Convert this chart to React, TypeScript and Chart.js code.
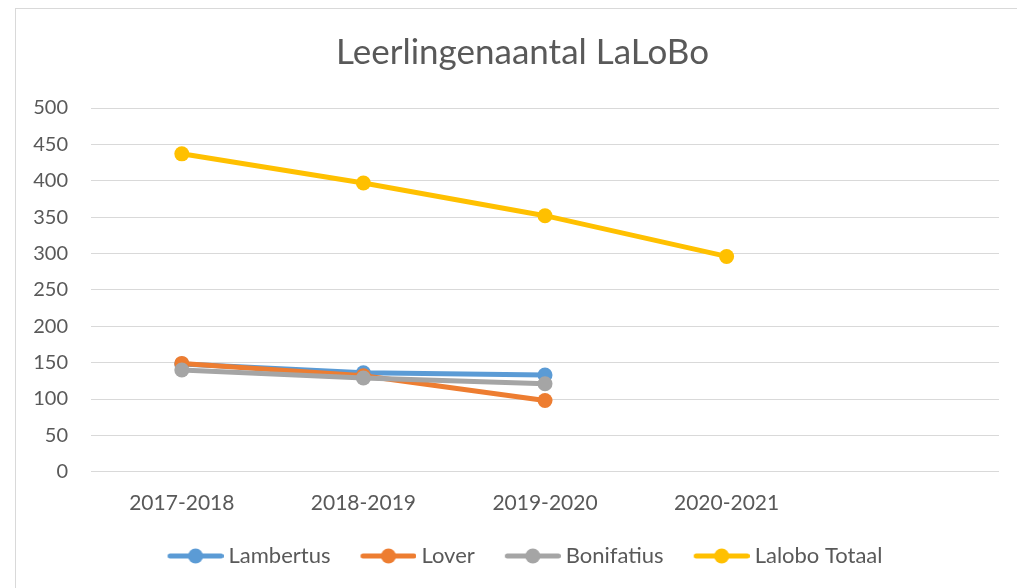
import React, { useEffect, useRef } from "react";
import { Chart, registerables } from "chart.js";

Chart.register(...registerables);

const categories = ["2017-2018", "2018-2019", "2019-2020", "2020-2021", ""];
const lambertus = [148, 136, 133, null, null];
const lover = [149, 132, 98, null, null];
const bonifatius = [140, 129, 121, null, null];
const laloboTotaal = [437, 397, 352, 296, null];
const yTicks = { min: 0, max: 500, step: 50 };

const seriesNames = ["Lambertus", "Lover", "Bonifatius", "Lalobo Totaal"];
const seriesColors = ["#5B9BD5", "#ED7D31", "#A5A5A5", "#FFC000"];

const FONT = "Lato";
const TEXT = "#595959";

const BOX_W = 69;
const IMG_W = BOX_W + 12;

function legendSymbol(color: string) {
  const c = document.createElement("canvas");
  c.width = IMG_W;
  c.height = 20;
  const ctx = c.getContext("2d")!;
  const x0 = IMG_W - 56;
  ctx.strokeStyle = color;
  ctx.lineWidth = 5;
  ctx.lineCap = "round";
  ctx.beginPath();
  ctx.moveTo(x0 + 2.5, 10);
  ctx.lineTo(x0 + 53.5, 10);
  ctx.stroke();
  ctx.fillStyle = color;
  ctx.beginPath();
  ctx.arc(x0 + 28, 10, 7.5, 0, Math.PI * 2);
  ctx.fill();
  return c;
}

const shiftLegend = {
  id: "shiftLegend",
  afterLayout(chart: any) {
    const lg = chart.legend;
    if (lg) {
      lg.left -= 7;
      lg.right -= 7;
    }
  },
};

export default function App() {
  const ref = useRef<HTMLCanvasElement | null>(null);
  useEffect(() => {
    if (!ref.current) return;
    const values = [lambertus, lover, bonifatius, laloboTotaal];
    const symbols = seriesColors.map(legendSymbol);
    const chart = new Chart(ref.current, {
      type: "line",
      plugins: [shiftLegend],
      data: {
        labels: categories,
        datasets: values.map((v, i) => ({
          label: seriesNames[i],
          data: v,
          borderColor: seriesColors[i],
          backgroundColor: seriesColors[i],
          pointBackgroundColor: seriesColors[i],
          pointBorderWidth: 0,
          pointRadius: 7.5,
          borderWidth: 5,
          tension: 0,
          spanGaps: false,
          order: 4 - i,
          yAxisID: "y",
        })),
      },
      options: {
        animation: false,
        responsive: false,
        maintainAspectRatio: false,
        layout: { padding: { left: 0, right: 0, top: 0, bottom: 21 } },
        plugins: {
          title: {
            display: true,
            text: "Leerlingenaantal LaLoBo",
            color: TEXT,
            font: { family: FONT, size: 35, weight: "normal" },
            padding: { top: 24, bottom: 34 },
          },
          legend: {
            position: "bottom",
            labels: {
              color: TEXT,
              font: { family: FONT, size: 22 },
              usePointStyle: true,
              pointStyleWidth: BOX_W,
              boxHeight: 20,
              padding: 11,
              generateLabels: (ch: any) => {
                const items = Chart.defaults.plugins.legend.labels.generateLabels(ch);
                items.sort((a: any, b: any) => a.datasetIndex - b.datasetIndex);
                return items.map((it: any) => ({
                  ...it,
                  pointStyle: symbols[it.datasetIndex],
                  fontColor: TEXT,
                }));
              },
            },
          },
          tooltip: { enabled: false },
        },
        scales: {
          x: {
            offset: true,
            grid: { display: false, drawTicks: false },
            border: { display: false },
            ticks: {
              color: TEXT,
              font: { family: FONT, size: 21 },
              padding: 19,
              maxRotation: 0,
              autoSkip: false,
            },
            afterFit: (s: any) => {
              s.height -= 1;
            },
          },
          y: {
            min: yTicks.min,
            max: yTicks.max,
            grid: { color: "#D9D9D9", lineWidth: 1, drawTicks: false },
            border: { display: false },
            ticks: {
              stepSize: yTicks.step,
              color: TEXT,
              font: { family: FONT, size: 20 },
              padding: 23,
            },
            afterFit: (s: any) => {
              s.width = 76;
            },
          },
          yRight: {
            position: "right",
            display: true,
            grid: { display: false, drawTicks: false },
            border: { display: false },
            ticks: { display: false },
            afterFit: (s: any) => {
              s.width = 31;
            },
          },
        },
      },
    });
    return () => chart.destroy();
  }, []);

  return (
    <div
      style={{
        position: "fixed",
        left: 0,
        top: 0,
        width: 1017,
        height: 588,
        overflow: "hidden",
        background: "#fff",
      }}
    >
      <div
        style={{
          position: "absolute",
          left: 222,
          top: -32,
          fontFamily: FONT,
          fontWeight: "bold",
          fontSize: 30,
          lineHeight: "30px",
          color: "#000",
        }}
      >
        g
      </div>
      <div
        style={{
          position: "absolute",
          left: 15,
          top: 8,
          width: 1030,
          height: 620,
          border: "1px solid #D9D9D9",
          boxSizing: "border-box",
        }}
      />
      <div style={{ position: "absolute", left: 15, top: 8, width: 1015, height: 590 }}>
        <canvas ref={ref} width={1015} height={590} style={{ width: 1015, height: 590 }} />
      </div>
    </div>
  );
}
